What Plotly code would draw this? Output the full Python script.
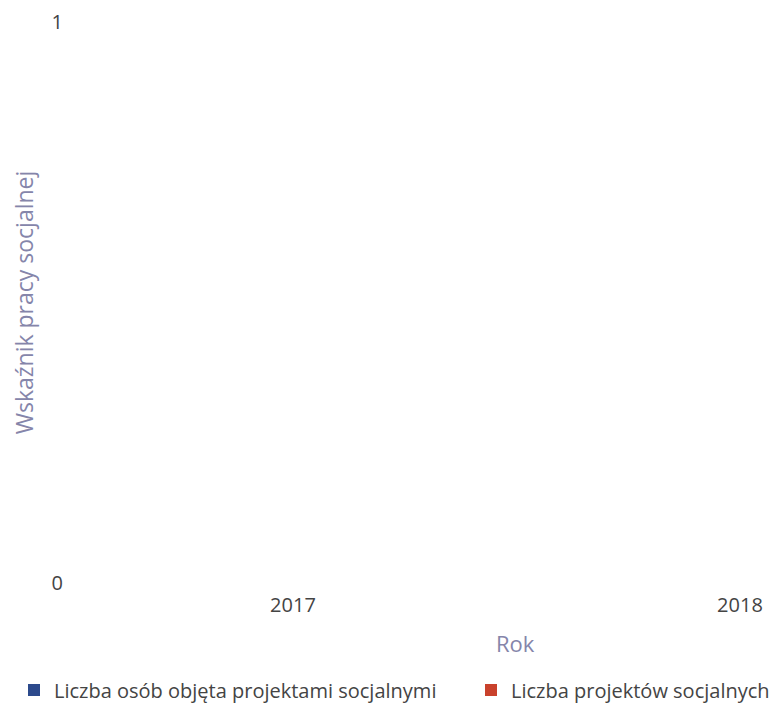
import plotly.graph_objects as go

years = [2017, 2018]
osoby = [0, 0]
projekty = [0, 0]
series_names = ["Liczba osób objęta projektami socjalnymi", "Liczba projektów socjalnych"]
y_ticks = [0, 1]
x_title = "Rok"
y_title = "Wskaźnik pracy socjalnej"

W, H = 770, 695
L, R, T, B = 56, 10, 14, 120
PW, PH = W - L - R, H - T - B

fig = go.Figure()
fig.add_trace(go.Bar(x=years, y=osoby, name=series_names[0], marker_color="#2c4a8c",
                     marker_line_width=0, legend="legend"))
fig.add_trace(go.Bar(x=years, y=projekty, name=series_names[1], marker_color="#c9412c",
                     marker_line_width=0, legend="legend2"))

leg_common = dict(orientation="h", xanchor="left", xref="container", yref="container",
                  y=1 - 682 / H, yanchor="middle",
                  font=dict(family="Open Sans", size=20, color="#444"), bgcolor="rgba(0,0,0,0)")

fig.update_layout(
    width=W, height=H,
    showlegend=True,
    margin=dict(l=L, r=R, t=T, b=B, autoexpand=False),
    paper_bgcolor="white", plot_bgcolor="white",
    font=dict(family="Open Sans", size=20, color="#444"),
    barmode="group",
    legend=dict(x=6 / W, **leg_common),
    legend2=dict(x=463 / W, **leg_common),
    xaxis=dict(range=[2016.4877, 2018.0627], tickvals=years, ticktext=[str(y) for y in years],
               showgrid=False, zeroline=False, showline=False,
               ticks="outside", ticklen=4, tickcolor="rgba(0,0,0,0)",
               tickfont=dict(size=20, color="#444")),
    yaxis=dict(range=[0, 1], tickvals=y_ticks, showgrid=False, zeroline=False, showline=False,
               tickfont=dict(size=20, color="#444"), ticklabeloverflow="allow",
               title=dict(text=y_title, font=dict(size=23, color="#8585aa"), standoff=17)),
    annotations=[dict(text=x_title, xref="paper", yref="paper",
                      x=(507 - L) / PW, y=-60 / PH, xanchor="center", yanchor="middle",
                      showarrow=False, font=dict(size=22, color="#8585aa"))],
)

fig.write_html("out.html")
